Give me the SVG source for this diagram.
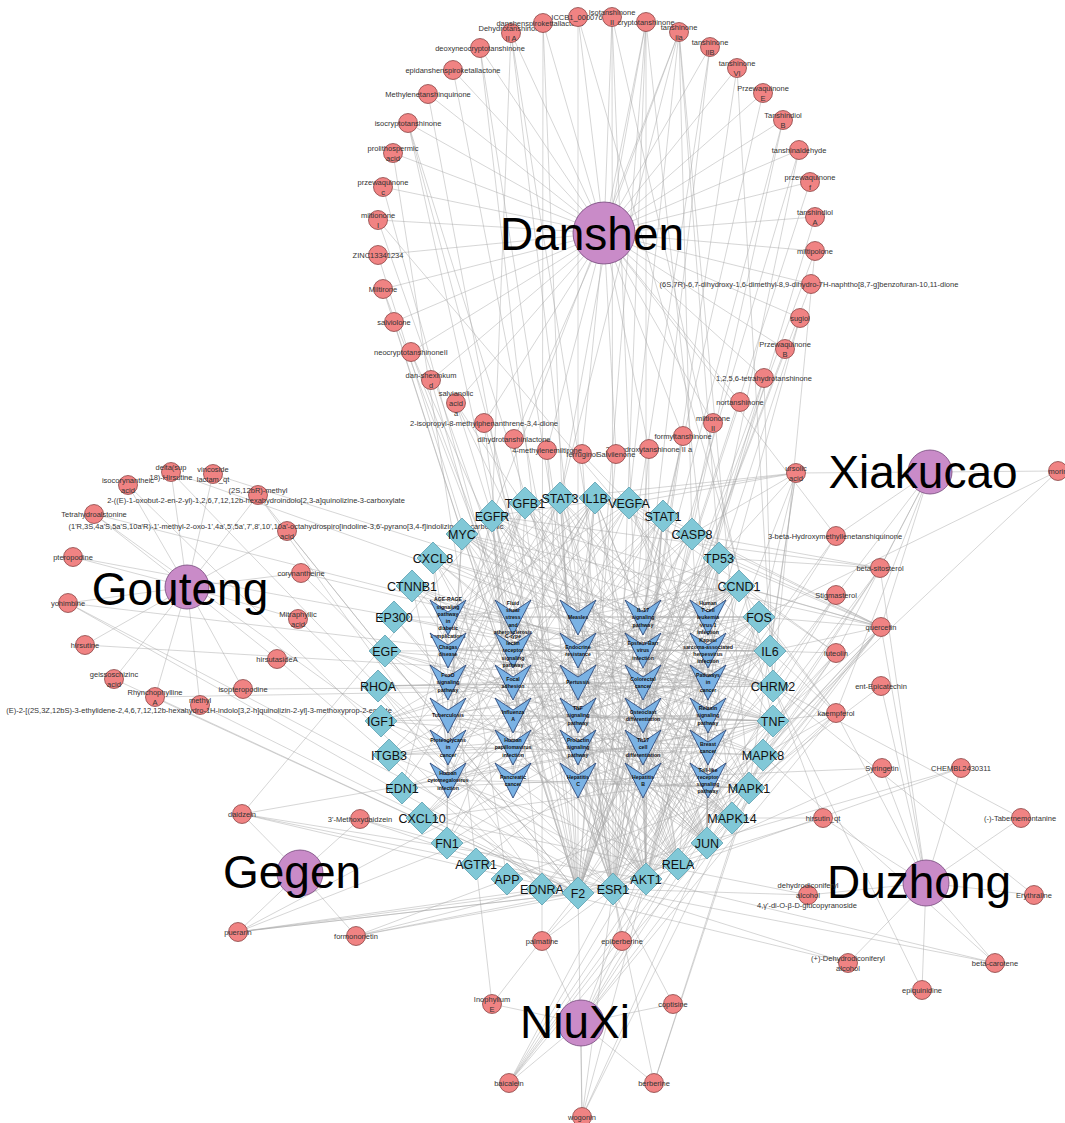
<svg xmlns="http://www.w3.org/2000/svg" width="1065" height="1123" viewBox="0 0 1065 1123">
<style>
.e line{stroke:#a9a9a9;stroke-width:0.6;stroke-opacity:0.8}
.c{fill:#f08383;stroke:#7a3434;stroke-width:0.7}
.h{fill:#c98bc8;stroke:#74467a;stroke-width:0.8}
.t{fill:#81c8d7;stroke:#5d9fb0;stroke-width:0.8}
.p{fill:#7ab2e4;stroke:#1f3a6e;stroke-width:0.8}
.cl{font-family:"Liberation Sans",Arial,sans-serif;font-size:7.5px;fill:#333;text-anchor:middle}
.tl{font-family:"Liberation Sans",Arial,sans-serif;font-size:12.5px;fill:#111;text-anchor:middle}
.pl{font-family:"Liberation Sans",Arial,sans-serif;font-size:5.2px;font-weight:bold;fill:#111;text-anchor:middle}
.hl{font-family:"Liberation Sans",Arial,sans-serif;font-size:46px;fill:#000;text-anchor:middle}
</style>
<defs>
<path id="dm" d="M0,-16L16,0L0,16L-16,0Z"/>
<path id="vee" d="M-18,-17.5L0,-5.5L18,-17.5L0,17.5Z"/>
</defs>
<rect width="1065" height="1123" fill="#fff"/>
<g id="edges" class="e">
<!-- Danshen hub -->
<line x1="604" y1="233" x2="511" y2="33"/><line x1="604" y1="233" x2="543" y2="23"/><line x1="604" y1="233" x2="578" y2="17"/><line x1="604" y1="233" x2="612" y2="17"/><line x1="604" y1="233" x2="646" y2="22"/><line x1="604" y1="233" x2="679" y2="32"/><line x1="604" y1="233" x2="710" y2="47"/><line x1="604" y1="233" x2="737" y2="68"/><line x1="604" y1="233" x2="763" y2="93"/><line x1="604" y1="233" x2="783" y2="120"/><line x1="604" y1="233" x2="799" y2="150"/><line x1="604" y1="233" x2="810" y2="182"/><line x1="604" y1="233" x2="815" y2="217"/><line x1="604" y1="233" x2="815" y2="251"/><line x1="604" y1="233" x2="811" y2="284"/><line x1="604" y1="233" x2="800" y2="318"/><line x1="604" y1="233" x2="785" y2="349"/><line x1="604" y1="233" x2="764" y2="378"/><line x1="604" y1="233" x2="740" y2="402"/><line x1="604" y1="233" x2="713" y2="423"/><line x1="604" y1="233" x2="683" y2="436"/><line x1="604" y1="233" x2="649" y2="449"/><line x1="604" y1="233" x2="616" y2="454"/><line x1="604" y1="233" x2="582" y2="454"/><line x1="604" y1="233" x2="547" y2="450"/><line x1="604" y1="233" x2="514" y2="439"/><line x1="604" y1="233" x2="484" y2="423"/><line x1="604" y1="233" x2="456" y2="403"/><line x1="604" y1="233" x2="431" y2="380"/><line x1="604" y1="233" x2="411" y2="352"/><line x1="604" y1="233" x2="394" y2="322"/><line x1="604" y1="233" x2="383" y2="289"/><line x1="604" y1="233" x2="378" y2="255"/><line x1="604" y1="233" x2="378" y2="220"/><line x1="604" y1="233" x2="383" y2="187"/><line x1="604" y1="233" x2="393" y2="153"/><line x1="604" y1="233" x2="408" y2="123"/><line x1="604" y1="233" x2="428" y2="94"/><line x1="604" y1="233" x2="453" y2="70"/><line x1="604" y1="233" x2="480" y2="48"/><line x1="604" y1="233" x2="836" y2="536"/>
<!-- Gouteng hub -->
<line x1="187" y1="587" x2="171" y2="472"/><line x1="187" y1="587" x2="213" y2="474"/><line x1="187" y1="587" x2="128" y2="485"/><line x1="187" y1="587" x2="258" y2="495"/><line x1="187" y1="587" x2="94" y2="514"/><line x1="187" y1="587" x2="287" y2="531"/><line x1="187" y1="587" x2="73" y2="557"/><line x1="187" y1="587" x2="301" y2="573"/><line x1="187" y1="587" x2="68" y2="603"/><line x1="187" y1="587" x2="298" y2="619"/><line x1="187" y1="587" x2="85" y2="645"/><line x1="187" y1="587" x2="277" y2="659"/><line x1="187" y1="587" x2="114" y2="679"/><line x1="187" y1="587" x2="243" y2="689"/><line x1="187" y1="587" x2="155" y2="697"/><line x1="187" y1="587" x2="200" y2="705"/>
<!-- Gegen hub -->
<line x1="300" y1="873" x2="242" y2="814"/><line x1="300" y1="873" x2="360" y2="819"/><line x1="300" y1="873" x2="238" y2="932"/><line x1="300" y1="873" x2="356" y2="936"/>
<!-- NiuXi hub -->
<line x1="581" y1="1023" x2="542" y2="941"/><line x1="581" y1="1023" x2="622" y2="941"/><line x1="581" y1="1023" x2="492" y2="1004"/><line x1="581" y1="1023" x2="673" y2="1004"/><line x1="581" y1="1023" x2="509" y2="1083"/><line x1="581" y1="1023" x2="654" y2="1083"/><line x1="581" y1="1023" x2="582" y2="1117"/><line x1="581" y1="1023" x2="880" y2="568"/><line x1="581" y1="1023" x2="836" y2="595"/><line x1="581" y1="1023" x2="881" y2="627"/><line x1="581" y1="1023" x2="836" y2="713"/><line x1="581" y1="1023" x2="796" y2="473"/>
<!-- Xiakucao hub -->
<line x1="930" y1="472" x2="796" y2="473"/><line x1="930" y1="472" x2="1058" y2="471"/><line x1="930" y1="472" x2="836" y2="536"/><line x1="930" y1="472" x2="880" y2="568"/><line x1="930" y1="472" x2="836" y2="595"/><line x1="930" y1="472" x2="881" y2="627"/><line x1="930" y1="472" x2="836" y2="653"/><line x1="930" y1="472" x2="836" y2="713"/>
<!-- Duzhong hub -->
<line x1="926" y1="883" x2="808" y2="895"/><line x1="926" y1="883" x2="1034" y2="895"/><line x1="926" y1="883" x2="848" y2="963"/><line x1="926" y1="883" x2="995" y2="963"/><line x1="926" y1="883" x2="922" y2="990"/><line x1="926" y1="883" x2="880" y2="568"/><line x1="926" y1="883" x2="881" y2="627"/><line x1="926" y1="883" x2="881" y2="686"/><line x1="926" y1="883" x2="836" y2="713"/><line x1="926" y1="883" x2="882" y2="768"/><line x1="926" y1="883" x2="961" y2="768"/><line x1="926" y1="883" x2="823" y2="818"/><line x1="926" y1="883" x2="1021" y2="818"/>
<!-- Danshen compounds to targets -->
<line x1="511" y1="33" x2="492" y2="516"/><line x1="511" y1="33" x2="646" y2="879"/><line x1="511" y1="33" x2="613" y2="889"/>
<line x1="543" y1="23" x2="578" y2="893"/><line x1="543" y1="23" x2="542" y2="889"/>
<line x1="578" y1="17" x2="773" y2="686"/><line x1="578" y1="17" x2="578" y2="893"/>
<line x1="612" y1="17" x2="613" y2="889"/><line x1="612" y1="17" x2="646" y2="879"/><line x1="612" y1="17" x2="773" y2="721"/>
<line x1="646" y1="22" x2="560" y2="498"/><line x1="646" y1="22" x2="613" y2="889"/><line x1="646" y1="22" x2="646" y2="879"/><line x1="646" y1="22" x2="732" y2="818"/><line x1="646" y1="22" x2="578" y2="893"/>
<line x1="679" y1="32" x2="560" y2="498"/><line x1="679" y1="32" x2="629" y2="503"/><line x1="679" y1="32" x2="719" y2="558"/><line x1="679" y1="32" x2="692" y2="534"/><line x1="679" y1="32" x2="492" y2="516"/><line x1="679" y1="32" x2="749" y2="788"/>
<line x1="710" y1="47" x2="578" y2="893"/><line x1="710" y1="47" x2="613" y2="889"/>
<line x1="737" y1="68" x2="613" y2="889"/><line x1="737" y1="68" x2="773" y2="686"/>
<line x1="763" y1="93" x2="578" y2="893"/>
<line x1="783" y1="120" x2="613" y2="889"/><line x1="783" y1="120" x2="578" y2="893"/>
<line x1="799" y1="150" x2="578" y2="893"/><line x1="799" y1="150" x2="646" y2="879"/>
<line x1="810" y1="182" x2="578" y2="893"/>
<line x1="815" y1="217" x2="613" y2="889"/>
<line x1="815" y1="251" x2="578" y2="893"/><line x1="815" y1="251" x2="773" y2="686"/>
<line x1="811" y1="284" x2="578" y2="893"/>
<line x1="800" y1="318" x2="613" y2="889"/><line x1="800" y1="318" x2="646" y2="879"/>
<line x1="785" y1="349" x2="578" y2="893"/>
<line x1="764" y1="378" x2="613" y2="889"/><line x1="764" y1="378" x2="578" y2="893"/><line x1="764" y1="378" x2="773" y2="686"/>
<line x1="740" y1="402" x2="578" y2="893"/>
<line x1="713" y1="423" x2="613" y2="889"/>
<line x1="683" y1="436" x2="578" y2="893"/><line x1="683" y1="436" x2="613" y2="889"/>
<line x1="649" y1="449" x2="613" y2="889"/><line x1="649" y1="449" x2="646" y2="879"/>
<line x1="616" y1="454" x2="578" y2="893"/>
<line x1="582" y1="454" x2="613" y2="889"/><line x1="582" y1="454" x2="770" y2="651"/>
<line x1="547" y1="450" x2="578" y2="893"/><line x1="547" y1="450" x2="613" y2="889"/>
<line x1="514" y1="439" x2="578" y2="893"/>
<line x1="484" y1="423" x2="542" y2="889"/><line x1="484" y1="423" x2="613" y2="889"/>
<line x1="456" y1="403" x2="732" y2="818"/><line x1="456" y1="403" x2="678" y2="864"/><line x1="456" y1="403" x2="492" y2="516"/>
<line x1="431" y1="380" x2="578" y2="893"/>
<line x1="411" y1="352" x2="613" y2="889"/><line x1="411" y1="352" x2="646" y2="879"/>
<line x1="394" y1="322" x2="578" y2="893"/>
<line x1="383" y1="289" x2="613" y2="889"/><line x1="383" y1="289" x2="578" y2="893"/>
<line x1="378" y1="255" x2="578" y2="893"/>
<line x1="378" y1="220" x2="613" y2="889"/><line x1="378" y1="220" x2="773" y2="686"/>
<line x1="383" y1="187" x2="578" y2="893"/>
<line x1="393" y1="153" x2="507" y2="879"/>
<line x1="408" y1="123" x2="613" y2="889"/><line x1="408" y1="123" x2="646" y2="879"/><line x1="408" y1="123" x2="578" y2="893"/>
<line x1="428" y1="94" x2="578" y2="893"/>
<line x1="453" y1="70" x2="613" y2="889"/>
<line x1="480" y1="48" x2="578" y2="893"/><line x1="480" y1="48" x2="613" y2="889"/>
<!-- Gouteng compounds to targets -->
<line x1="171" y1="472" x2="773" y2="686"/><line x1="171" y1="472" x2="578" y2="893"/>
<line x1="213" y1="474" x2="770" y2="651"/>
<line x1="128" y1="485" x2="542" y2="889"/>
<line x1="258" y1="495" x2="542" y2="889"/><line x1="258" y1="495" x2="578" y2="893"/>
<line x1="94" y1="514" x2="773" y2="686"/><line x1="94" y1="514" x2="613" y2="889"/>
<line x1="287" y1="531" x2="578" y2="893"/>
<line x1="73" y1="557" x2="773" y2="686"/>
<line x1="301" y1="573" x2="773" y2="686"/><line x1="301" y1="573" x2="613" y2="889"/>
<line x1="68" y1="603" x2="773" y2="686"/><line x1="68" y1="603" x2="578" y2="893"/><line x1="68" y1="603" x2="613" y2="889"/>
<line x1="298" y1="619" x2="578" y2="893"/>
<line x1="85" y1="645" x2="773" y2="686"/>
<line x1="277" y1="659" x2="542" y2="889"/>
<line x1="114" y1="679" x2="578" y2="893"/>
<line x1="243" y1="689" x2="773" y2="686"/>
<line x1="155" y1="697" x2="773" y2="686"/><line x1="155" y1="697" x2="578" y2="893"/>
<line x1="200" y1="705" x2="578" y2="893"/>
<!-- Gegen compounds to targets -->
<line x1="242" y1="814" x2="613" y2="889"/><line x1="242" y1="814" x2="646" y2="879"/><line x1="242" y1="814" x2="492" y2="516"/><line x1="242" y1="814" x2="773" y2="721"/><line x1="242" y1="814" x2="578" y2="893"/>
<line x1="360" y1="819" x2="613" y2="889"/><line x1="360" y1="819" x2="578" y2="893"/>
<line x1="238" y1="932" x2="613" y2="889"/><line x1="238" y1="932" x2="646" y2="879"/><line x1="238" y1="932" x2="773" y2="721"/><line x1="238" y1="932" x2="770" y2="651"/><line x1="238" y1="932" x2="578" y2="893"/><line x1="238" y1="932" x2="542" y2="889"/>
<line x1="356" y1="936" x2="613" y2="889"/><line x1="356" y1="936" x2="646" y2="879"/><line x1="356" y1="936" x2="749" y2="788"/><line x1="356" y1="936" x2="542" y2="889"/>
<!-- NiuXi compounds to targets -->
<line x1="542" y1="941" x2="542" y2="889"/><line x1="542" y1="941" x2="773" y2="686"/><line x1="542" y1="941" x2="613" y2="889"/>
<line x1="622" y1="941" x2="613" y2="889"/><line x1="622" y1="941" x2="646" y2="879"/>
<line x1="492" y1="1004" x2="578" y2="893"/><line x1="492" y1="1004" x2="476" y2="864"/>
<line x1="673" y1="1004" x2="613" y2="889"/>
<line x1="509" y1="1083" x2="646" y2="879"/><line x1="509" y1="1083" x2="613" y2="889"/><line x1="509" y1="1083" x2="732" y2="818"/><line x1="509" y1="1083" x2="678" y2="864"/><line x1="509" y1="1083" x2="773" y2="721"/><line x1="509" y1="1083" x2="770" y2="651"/>
<line x1="654" y1="1083" x2="613" y2="889"/><line x1="654" y1="1083" x2="749" y2="788"/><line x1="654" y1="1083" x2="773" y2="721"/>
<line x1="582" y1="1117" x2="646" y2="879"/><line x1="582" y1="1117" x2="613" y2="889"/><line x1="582" y1="1117" x2="707" y2="843"/><line x1="582" y1="1117" x2="763" y2="755"/><line x1="582" y1="1117" x2="578" y2="893"/>
<!-- Xiakucao/shared compounds to targets -->
<line x1="796" y1="473" x2="692" y2="534"/><line x1="796" y1="473" x2="560" y2="498"/><line x1="796" y1="473" x2="719" y2="558"/><line x1="796" y1="473" x2="749" y2="788"/><line x1="796" y1="473" x2="492" y2="516"/><line x1="796" y1="473" x2="629" y2="503"/><line x1="796" y1="473" x2="770" y2="651"/><line x1="796" y1="473" x2="707" y2="843"/>
<line x1="1058" y1="471" x2="759" y2="617"/><line x1="1058" y1="471" x2="613" y2="889"/>
<line x1="836" y1="536" x2="613" y2="889"/><line x1="836" y1="536" x2="578" y2="893"/>
<line x1="880" y1="568" x2="692" y2="534"/><line x1="880" y1="568" x2="719" y2="558"/><line x1="880" y1="568" x2="492" y2="516"/><line x1="880" y1="568" x2="678" y2="864"/><line x1="880" y1="568" x2="646" y2="879"/>
<line x1="836" y1="595" x2="613" y2="889"/><line x1="836" y1="595" x2="773" y2="686"/>
<line x1="881" y1="627" x2="759" y2="617"/><line x1="881" y1="627" x2="770" y2="651"/><line x1="881" y1="627" x2="773" y2="721"/><line x1="881" y1="627" x2="707" y2="843"/><line x1="881" y1="627" x2="739" y2="586"/><line x1="881" y1="627" x2="646" y2="879"/><line x1="881" y1="627" x2="749" y2="788"/><line x1="881" y1="627" x2="763" y2="755"/><line x1="881" y1="627" x2="492" y2="516"/><line x1="881" y1="627" x2="719" y2="558"/><line x1="881" y1="627" x2="663" y2="516"/><line x1="881" y1="627" x2="629" y2="503"/><line x1="881" y1="627" x2="678" y2="864"/><line x1="881" y1="627" x2="595" y2="498"/><line x1="881" y1="627" x2="462" y2="534"/>
<line x1="836" y1="653" x2="770" y2="651"/><line x1="836" y1="653" x2="773" y2="721"/><line x1="836" y1="653" x2="707" y2="843"/><line x1="836" y1="653" x2="739" y2="586"/><line x1="836" y1="653" x2="646" y2="879"/><line x1="836" y1="653" x2="629" y2="503"/><line x1="836" y1="653" x2="763" y2="755"/>
<line x1="881" y1="686" x2="613" y2="889"/>
<line x1="836" y1="713" x2="646" y2="879"/><line x1="836" y1="713" x2="773" y2="721"/><line x1="836" y1="713" x2="707" y2="843"/><line x1="836" y1="713" x2="763" y2="755"/><line x1="836" y1="713" x2="770" y2="651"/><line x1="836" y1="713" x2="739" y2="586"/><line x1="836" y1="713" x2="759" y2="617"/>
<line x1="882" y1="768" x2="613" y2="889"/><line x1="882" y1="768" x2="402" y2="788"/>
<line x1="961" y1="768" x2="542" y2="889"/><line x1="961" y1="768" x2="646" y2="879"/>
<line x1="823" y1="818" x2="773" y2="686"/><line x1="823" y1="818" x2="578" y2="893"/><line x1="823" y1="818" x2="732" y2="818"/>
<line x1="1021" y1="818" x2="773" y2="686"/>
<!-- Duzhong compounds to targets -->
<line x1="808" y1="895" x2="422" y2="818"/><line x1="808" y1="895" x2="613" y2="889"/>
<line x1="1034" y1="895" x2="773" y2="686"/>
<line x1="848" y1="963" x2="542" y2="889"/><line x1="848" y1="963" x2="613" y2="889"/>
<line x1="995" y1="963" x2="646" y2="879"/><line x1="995" y1="963" x2="613" y2="889"/><line x1="995" y1="963" x2="763" y2="755"/>
<line x1="922" y1="990" x2="773" y2="686"/>
<!-- targets to pathways -->
<line x1="448" y1="617" x2="595" y2="498"/><line x1="448" y1="617" x2="629" y2="503"/><line x1="448" y1="617" x2="525" y2="503"/><line x1="448" y1="617" x2="770" y2="651"/><line x1="448" y1="617" x2="773" y2="721"/><line x1="448" y1="617" x2="646" y2="879"/><line x1="448" y1="617" x2="707" y2="843"/><line x1="448" y1="617" x2="560" y2="498"/><line x1="448" y1="617" x2="402" y2="788"/><line x1="448" y1="617" x2="447" y2="843"/><line x1="448" y1="617" x2="476" y2="864"/><line x1="448" y1="617" x2="739" y2="586"/>
<line x1="513" y1="617" x2="629" y2="503"/><line x1="513" y1="617" x2="595" y2="498"/><line x1="513" y1="617" x2="773" y2="721"/><line x1="513" y1="617" x2="707" y2="843"/><line x1="513" y1="617" x2="759" y2="617"/><line x1="513" y1="617" x2="678" y2="864"/><line x1="513" y1="617" x2="646" y2="879"/><line x1="513" y1="617" x2="732" y2="818"/><line x1="513" y1="617" x2="389" y2="755"/><line x1="513" y1="617" x2="402" y2="788"/>
<line x1="578" y1="617" x2="663" y2="516"/><line x1="578" y1="617" x2="560" y2="498"/><line x1="578" y1="617" x2="595" y2="498"/><line x1="578" y1="617" x2="770" y2="651"/><line x1="578" y1="617" x2="719" y2="558"/><line x1="578" y1="617" x2="739" y2="586"/><line x1="578" y1="617" x2="646" y2="879"/><line x1="578" y1="617" x2="707" y2="843"/><line x1="578" y1="617" x2="678" y2="864"/>
<line x1="643" y1="617" x2="595" y2="498"/><line x1="643" y1="617" x2="770" y2="651"/><line x1="643" y1="617" x2="773" y2="721"/><line x1="643" y1="617" x2="433" y2="558"/><line x1="643" y1="617" x2="422" y2="818"/><line x1="643" y1="617" x2="692" y2="534"/><line x1="643" y1="617" x2="707" y2="843"/><line x1="643" y1="617" x2="759" y2="617"/><line x1="643" y1="617" x2="732" y2="818"/><line x1="643" y1="617" x2="678" y2="864"/>
<line x1="708" y1="617" x2="525" y2="503"/><line x1="708" y1="617" x2="462" y2="534"/><line x1="708" y1="617" x2="719" y2="558"/><line x1="708" y1="617" x2="739" y2="586"/><line x1="708" y1="617" x2="770" y2="651"/><line x1="708" y1="617" x2="773" y2="721"/><line x1="708" y1="617" x2="759" y2="617"/><line x1="708" y1="617" x2="707" y2="843"/><line x1="708" y1="617" x2="646" y2="879"/><line x1="708" y1="617" x2="492" y2="516"/><line x1="708" y1="617" x2="678" y2="864"/><line x1="708" y1="617" x2="394" y2="617"/>
<line x1="448" y1="650" x2="595" y2="498"/><line x1="448" y1="650" x2="525" y2="503"/><line x1="448" y1="650" x2="770" y2="651"/><line x1="448" y1="650" x2="773" y2="721"/><line x1="448" y1="650" x2="707" y2="843"/><line x1="448" y1="650" x2="732" y2="818"/><line x1="448" y1="650" x2="433" y2="558"/><line x1="448" y1="650" x2="759" y2="617"/><line x1="448" y1="650" x2="678" y2="864"/>
<line x1="513" y1="650" x2="595" y2="498"/><line x1="513" y1="650" x2="770" y2="651"/><line x1="513" y1="650" x2="773" y2="721"/><line x1="513" y1="650" x2="663" y2="516"/><line x1="513" y1="650" x2="678" y2="864"/><line x1="513" y1="650" x2="732" y2="818"/><line x1="513" y1="650" x2="763" y2="755"/><line x1="513" y1="650" x2="646" y2="879"/><line x1="513" y1="650" x2="707" y2="843"/>
<line x1="578" y1="650" x2="613" y2="889"/><line x1="578" y1="650" x2="492" y2="516"/><line x1="578" y1="650" x2="381" y2="721"/><line x1="578" y1="650" x2="739" y2="586"/><line x1="578" y1="650" x2="646" y2="879"/><line x1="578" y1="650" x2="749" y2="788"/><line x1="578" y1="650" x2="719" y2="558"/><line x1="578" y1="650" x2="707" y2="843"/><line x1="578" y1="650" x2="759" y2="617"/>
<line x1="643" y1="650" x2="560" y2="498"/><line x1="643" y1="650" x2="719" y2="558"/><line x1="643" y1="650" x2="462" y2="534"/><line x1="643" y1="650" x2="739" y2="586"/><line x1="643" y1="650" x2="770" y2="651"/><line x1="643" y1="650" x2="773" y2="721"/><line x1="643" y1="650" x2="707" y2="843"/><line x1="643" y1="650" x2="678" y2="864"/><line x1="643" y1="650" x2="422" y2="818"/>
<line x1="708" y1="650" x2="560" y2="498"/><line x1="708" y1="650" x2="462" y2="534"/><line x1="708" y1="650" x2="770" y2="651"/><line x1="708" y1="650" x2="433" y2="558"/><line x1="708" y1="650" x2="629" y2="503"/><line x1="708" y1="650" x2="739" y2="586"/><line x1="708" y1="650" x2="719" y2="558"/><line x1="708" y1="650" x2="707" y2="843"/><line x1="708" y1="650" x2="759" y2="617"/><line x1="708" y1="650" x2="646" y2="879"/><line x1="708" y1="650" x2="385" y2="651"/>
<line x1="448" y1="682" x2="525" y2="503"/><line x1="448" y1="682" x2="560" y2="498"/><line x1="448" y1="682" x2="492" y2="516"/><line x1="448" y1="682" x2="385" y2="651"/><line x1="448" y1="682" x2="381" y2="721"/><line x1="448" y1="682" x2="739" y2="586"/><line x1="448" y1="682" x2="646" y2="879"/><line x1="448" y1="682" x2="763" y2="755"/><line x1="448" y1="682" x2="394" y2="617"/><line x1="448" y1="682" x2="749" y2="788"/>
<line x1="513" y1="682" x2="629" y2="503"/><line x1="513" y1="682" x2="492" y2="516"/><line x1="513" y1="682" x2="385" y2="651"/><line x1="513" y1="682" x2="739" y2="586"/><line x1="513" y1="682" x2="381" y2="721"/><line x1="513" y1="682" x2="389" y2="755"/><line x1="513" y1="682" x2="447" y2="843"/><line x1="513" y1="682" x2="378" y2="686"/><line x1="513" y1="682" x2="646" y2="879"/><line x1="513" y1="682" x2="412" y2="586"/>
<line x1="578" y1="682" x2="595" y2="498"/><line x1="578" y1="682" x2="770" y2="651"/><line x1="578" y1="682" x2="773" y2="721"/><line x1="578" y1="682" x2="433" y2="558"/><line x1="578" y1="682" x2="732" y2="818"/><line x1="578" y1="682" x2="707" y2="843"/><line x1="578" y1="682" x2="759" y2="617"/><line x1="578" y1="682" x2="678" y2="864"/>
<line x1="643" y1="682" x2="525" y2="503"/><line x1="643" y1="682" x2="462" y2="534"/><line x1="643" y1="682" x2="412" y2="586"/><line x1="643" y1="682" x2="739" y2="586"/><line x1="643" y1="682" x2="719" y2="558"/><line x1="643" y1="682" x2="646" y2="879"/><line x1="643" y1="682" x2="707" y2="843"/><line x1="643" y1="682" x2="749" y2="788"/><line x1="643" y1="682" x2="492" y2="516"/><line x1="643" y1="682" x2="378" y2="686"/>
<line x1="708" y1="682" x2="492" y2="516"/><line x1="708" y1="682" x2="385" y2="651"/><line x1="708" y1="682" x2="629" y2="503"/><line x1="708" y1="682" x2="462" y2="534"/><line x1="708" y1="682" x2="719" y2="558"/><line x1="708" y1="682" x2="739" y2="586"/><line x1="708" y1="682" x2="412" y2="586"/><line x1="708" y1="682" x2="560" y2="498"/><line x1="708" y1="682" x2="381" y2="721"/><line x1="708" y1="682" x2="447" y2="843"/><line x1="708" y1="682" x2="389" y2="755"/><line x1="708" y1="682" x2="378" y2="686"/><line x1="708" y1="682" x2="646" y2="879"/><line x1="708" y1="682" x2="749" y2="788"/><line x1="708" y1="682" x2="707" y2="843"/><line x1="708" y1="682" x2="770" y2="651"/><line x1="708" y1="682" x2="433" y2="558"/><line x1="708" y1="682" x2="476" y2="864"/><line x1="708" y1="682" x2="542" y2="889"/><line x1="708" y1="682" x2="578" y2="893"/><line x1="708" y1="682" x2="613" y2="889"/><line x1="708" y1="682" x2="394" y2="617"/>
<line x1="448" y1="715" x2="595" y2="498"/><line x1="448" y1="715" x2="773" y2="721"/><line x1="448" y1="715" x2="770" y2="651"/><line x1="448" y1="715" x2="525" y2="503"/><line x1="448" y1="715" x2="732" y2="818"/><line x1="448" y1="715" x2="692" y2="534"/><line x1="448" y1="715" x2="678" y2="864"/><line x1="448" y1="715" x2="749" y2="788"/>
<line x1="513" y1="715" x2="663" y2="516"/><line x1="513" y1="715" x2="595" y2="498"/><line x1="513" y1="715" x2="770" y2="651"/><line x1="513" y1="715" x2="773" y2="721"/><line x1="513" y1="715" x2="433" y2="558"/><line x1="513" y1="715" x2="422" y2="818"/><line x1="513" y1="715" x2="678" y2="864"/><line x1="513" y1="715" x2="707" y2="843"/><line x1="513" y1="715" x2="646" y2="879"/>
<line x1="578" y1="715" x2="595" y2="498"/><line x1="578" y1="715" x2="770" y2="651"/><line x1="578" y1="715" x2="773" y2="721"/><line x1="578" y1="715" x2="422" y2="818"/><line x1="578" y1="715" x2="692" y2="534"/><line x1="578" y1="715" x2="707" y2="843"/><line x1="578" y1="715" x2="759" y2="617"/><line x1="578" y1="715" x2="732" y2="818"/><line x1="578" y1="715" x2="402" y2="788"/>
<line x1="643" y1="715" x2="773" y2="721"/><line x1="643" y1="715" x2="595" y2="498"/><line x1="643" y1="715" x2="759" y2="617"/><line x1="643" y1="715" x2="707" y2="843"/><line x1="643" y1="715" x2="732" y2="818"/><line x1="643" y1="715" x2="763" y2="755"/><line x1="643" y1="715" x2="646" y2="879"/><line x1="643" y1="715" x2="678" y2="864"/><line x1="643" y1="715" x2="663" y2="516"/>
<line x1="708" y1="715" x2="629" y2="503"/><line x1="708" y1="715" x2="525" y2="503"/><line x1="708" y1="715" x2="492" y2="516"/><line x1="708" y1="715" x2="542" y2="889"/><line x1="708" y1="715" x2="759" y2="617"/><line x1="708" y1="715" x2="707" y2="843"/><line x1="708" y1="715" x2="646" y2="879"/><line x1="708" y1="715" x2="749" y2="788"/><line x1="708" y1="715" x2="402" y2="788"/><line x1="708" y1="715" x2="381" y2="721"/>
<line x1="448" y1="747" x2="462" y2="534"/><line x1="448" y1="747" x2="525" y2="503"/><line x1="448" y1="747" x2="629" y2="503"/><line x1="448" y1="747" x2="412" y2="586"/><line x1="448" y1="747" x2="492" y2="516"/><line x1="448" y1="747" x2="613" y2="889"/><line x1="448" y1="747" x2="381" y2="721"/><line x1="448" y1="747" x2="773" y2="721"/><line x1="448" y1="747" x2="739" y2="586"/><line x1="448" y1="747" x2="447" y2="843"/><line x1="448" y1="747" x2="389" y2="755"/><line x1="448" y1="747" x2="378" y2="686"/><line x1="448" y1="747" x2="719" y2="558"/><line x1="448" y1="747" x2="560" y2="498"/><line x1="448" y1="747" x2="763" y2="755"/>
<line x1="513" y1="747" x2="719" y2="558"/><line x1="513" y1="747" x2="492" y2="516"/><line x1="513" y1="747" x2="385" y2="651"/><line x1="513" y1="747" x2="739" y2="586"/><line x1="513" y1="747" x2="412" y2="586"/><line x1="513" y1="747" x2="389" y2="755"/><line x1="513" y1="747" x2="447" y2="843"/><line x1="513" y1="747" x2="646" y2="879"/><line x1="513" y1="747" x2="394" y2="617"/><line x1="513" y1="747" x2="663" y2="516"/>
<line x1="578" y1="747" x2="663" y2="516"/><line x1="578" y1="747" x2="560" y2="498"/><line x1="578" y1="747" x2="613" y2="889"/><line x1="578" y1="747" x2="739" y2="586"/><line x1="578" y1="747" x2="759" y2="617"/><line x1="578" y1="747" x2="646" y2="879"/><line x1="578" y1="747" x2="732" y2="818"/><line x1="578" y1="747" x2="763" y2="755"/>
<line x1="643" y1="747" x2="595" y2="498"/><line x1="643" y1="747" x2="770" y2="651"/><line x1="643" y1="747" x2="525" y2="503"/><line x1="643" y1="747" x2="663" y2="516"/><line x1="643" y1="747" x2="560" y2="498"/><line x1="643" y1="747" x2="707" y2="843"/><line x1="643" y1="747" x2="732" y2="818"/><line x1="643" y1="747" x2="678" y2="864"/>
<line x1="708" y1="747" x2="613" y2="889"/><line x1="708" y1="747" x2="492" y2="516"/><line x1="708" y1="747" x2="385" y2="651"/><line x1="708" y1="747" x2="381" y2="721"/><line x1="708" y1="747" x2="739" y2="586"/><line x1="708" y1="747" x2="719" y2="558"/><line x1="708" y1="747" x2="412" y2="586"/><line x1="708" y1="747" x2="462" y2="534"/><line x1="708" y1="747" x2="759" y2="617"/><line x1="708" y1="747" x2="707" y2="843"/><line x1="708" y1="747" x2="646" y2="879"/><line x1="708" y1="747" x2="389" y2="755"/>
<line x1="448" y1="780" x2="560" y2="498"/><line x1="448" y1="780" x2="433" y2="558"/><line x1="448" y1="780" x2="595" y2="498"/><line x1="448" y1="780" x2="770" y2="651"/><line x1="448" y1="780" x2="773" y2="721"/><line x1="448" y1="780" x2="719" y2="558"/><line x1="448" y1="780" x2="692" y2="534"/><line x1="448" y1="780" x2="646" y2="879"/><line x1="448" y1="780" x2="678" y2="864"/><line x1="448" y1="780" x2="462" y2="534"/><line x1="448" y1="780" x2="378" y2="686"/><line x1="448" y1="780" x2="389" y2="755"/><line x1="448" y1="780" x2="749" y2="788"/>
<line x1="513" y1="780" x2="525" y2="503"/><line x1="513" y1="780" x2="560" y2="498"/><line x1="513" y1="780" x2="492" y2="516"/><line x1="513" y1="780" x2="629" y2="503"/><line x1="513" y1="780" x2="739" y2="586"/><line x1="513" y1="780" x2="646" y2="879"/><line x1="513" y1="780" x2="719" y2="558"/><line x1="513" y1="780" x2="749" y2="788"/>
<line x1="578" y1="780" x2="663" y2="516"/><line x1="578" y1="780" x2="560" y2="498"/><line x1="578" y1="780" x2="492" y2="516"/><line x1="578" y1="780" x2="739" y2="586"/><line x1="578" y1="780" x2="719" y2="558"/><line x1="578" y1="780" x2="646" y2="879"/><line x1="578" y1="780" x2="749" y2="788"/><line x1="578" y1="780" x2="773" y2="721"/><line x1="578" y1="780" x2="433" y2="558"/><line x1="578" y1="780" x2="462" y2="534"/>
<line x1="643" y1="780" x2="663" y2="516"/><line x1="643" y1="780" x2="560" y2="498"/><line x1="643" y1="780" x2="719" y2="558"/><line x1="643" y1="780" x2="462" y2="534"/><line x1="643" y1="780" x2="739" y2="586"/><line x1="643" y1="780" x2="773" y2="721"/><line x1="643" y1="780" x2="770" y2="651"/><line x1="643" y1="780" x2="707" y2="843"/><line x1="643" y1="780" x2="759" y2="617"/><line x1="643" y1="780" x2="646" y2="879"/>
<line x1="708" y1="780" x2="595" y2="498"/><line x1="708" y1="780" x2="770" y2="651"/><line x1="708" y1="780" x2="773" y2="721"/><line x1="708" y1="780" x2="433" y2="558"/><line x1="708" y1="780" x2="422" y2="818"/><line x1="708" y1="780" x2="663" y2="516"/><line x1="708" y1="780" x2="707" y2="843"/><line x1="708" y1="780" x2="759" y2="617"/><line x1="708" y1="780" x2="678" y2="864"/><line x1="708" y1="780" x2="646" y2="879"/><line x1="708" y1="780" x2="763" y2="755"/><line x1="708" y1="780" x2="692" y2="534"/>
</g>
<!-- Hubs -->
<g id="hub-danshen"><circle class="h" cx="604" cy="233" r="31"/><text class="hl" x="592" y="250">Danshen</text></g>
<g id="hub-xiakucao"><circle class="h" cx="930" cy="472" r="22"/><text class="hl" x="923" y="488">Xiakucao</text></g>
<g id="hub-gouteng"><circle class="h" cx="187" cy="587" r="22"/><text class="hl" x="180" y="605">Gouteng</text></g>
<g id="hub-gegen"><circle class="h" cx="300" cy="873" r="23"/><text class="hl" x="292" y="888">Gegen</text></g>
<g id="hub-duzhong"><circle class="h" cx="926" cy="883" r="23"/><text class="hl" x="919" y="898">Duzhong</text></g>
<g id="hub-niuxi"><circle class="h" cx="581" cy="1023" r="23"/><text class="hl" x="575" y="1038">NiuXi</text></g>
<!-- Danshen compounds -->
<g id="c-d01"><circle class="c" cx="511" cy="33" r="9.5"/><text class="cl" x="511" y="30.7">Dehydrotanshinone<tspan x="511" dy="10">II A</tspan></text></g>
<g id="c-d02"><circle class="c" cx="543" cy="23" r="9.5"/><text class="cl" x="540" y="25.7">danshenspirokettallactone</text></g>
<g id="c-d03"><circle class="c" cx="578" cy="17" r="9.5"/><text class="cl" x="577" y="19.7">ICCB1_000076</text></g>
<g id="c-d04"><circle class="c" cx="612" cy="17" r="9.5"/><text class="cl" x="612" y="14.7">Isotanshinone<tspan x="612" dy="10">II</tspan></text></g>
<g id="c-d05"><circle class="c" cx="646" cy="22" r="9.5"/><text class="cl" x="646" y="24.7">cryptotanshinone</text></g>
<g id="c-d06"><circle class="c" cx="679" cy="32" r="9.5"/><text class="cl" x="679" y="29.7">tanshinone<tspan x="679" dy="10">iia</tspan></text></g>
<g id="c-d07"><circle class="c" cx="710" cy="47" r="9.5"/><text class="cl" x="710" y="44.7">tanshinone<tspan x="710" dy="10">IIB</tspan></text></g>
<g id="c-d08"><circle class="c" cx="737" cy="68" r="9.5"/><text class="cl" x="737" y="65.7">tanshinone<tspan x="737" dy="10">VI</tspan></text></g>
<g id="c-d09"><circle class="c" cx="763" cy="93" r="9.5"/><text class="cl" x="763" y="90.7">Przewaquinone<tspan x="763" dy="10">E</tspan></text></g>
<g id="c-d10"><circle class="c" cx="783" cy="120" r="9.5"/><text class="cl" x="783" y="117.7">Tanshindiol<tspan x="783" dy="10">B</tspan></text></g>
<g id="c-d11"><circle class="c" cx="799" cy="150" r="9.5"/><text class="cl" x="799" y="152.7">tanshinaldehyde</text></g>
<g id="c-d12"><circle class="c" cx="810" cy="182" r="9.5"/><text class="cl" x="810" y="179.7">przewaquinone<tspan x="810" dy="10">f</tspan></text></g>
<g id="c-d13"><circle class="c" cx="815" cy="217" r="9.5"/><text class="cl" x="815" y="214.7">tanshindiol<tspan x="815" dy="10">A</tspan></text></g>
<g id="c-d14"><circle class="c" cx="815" cy="251" r="9.5"/><text class="cl" x="815" y="253.7">miltipolone</text></g>
<g id="c-d15"><circle class="c" cx="811" cy="284" r="9.5"/><text class="cl" x="809" y="286.7">(6S,7R)-6,7-dihydroxy-1,6-dimethyl-8,9-dihydro-7H-naphtho[8,7-g]benzofuran-10,11-dione</text></g>
<g id="c-d16"><circle class="c" cx="800" cy="318" r="9.5"/><text class="cl" x="800" y="320.7">sugiol</text></g>
<g id="c-d17"><circle class="c" cx="785" cy="349" r="9.5"/><text class="cl" x="785" y="346.7">Przewaquinone<tspan x="785" dy="10">B</tspan></text></g>
<g id="c-d18"><circle class="c" cx="764" cy="378" r="9.5"/><text class="cl" x="764" y="380.7">1,2,5,6-tetrahydrotanshinone</text></g>
<g id="c-d19"><circle class="c" cx="740" cy="402" r="9.5"/><text class="cl" x="740" y="404.7">nortanshinone</text></g>
<g id="c-d20"><circle class="c" cx="713" cy="423" r="9.5"/><text class="cl" x="713" y="420.7">miltionone<tspan x="713" dy="10">II</tspan></text></g>
<g id="c-d21"><circle class="c" cx="683" cy="436" r="9.5"/><text class="cl" x="683" y="438.7">formyltanshinone</text></g>
<g id="c-d22"><circle class="c" cx="649" cy="449" r="9.5"/><text class="cl" x="649" y="451.7">2β-hydroxytanshinone II a</text></g>
<g id="c-d23"><circle class="c" cx="616" cy="454" r="9.5"/><text class="cl" x="616" y="456.7">Salvilenone</text></g>
<g id="c-d24"><circle class="c" cx="582" cy="454" r="9.5"/><text class="cl" x="582" y="456.7">ferruginol</text></g>
<g id="c-d25"><circle class="c" cx="547" cy="450" r="9.5"/><text class="cl" x="547" y="452.7">4-methylenemiltirone</text></g>
<g id="c-d26"><circle class="c" cx="514" cy="439" r="9.5"/><text class="cl" x="514" y="441.7">dihydrotanshinlactone</text></g>
<g id="c-d27"><circle class="c" cx="484" cy="423" r="9.5"/><text class="cl" x="484" y="425.7">2-isopropyl-8-methylphenanthrene-3,4-dione</text></g>
<g id="c-d28"><circle class="c" cx="456" cy="403" r="9.5"/><text class="cl" x="456" y="395.7">salvianolic<tspan x="456" dy="10">acid</tspan><tspan x="456" dy="10">a</tspan></text></g>
<g id="c-d29"><circle class="c" cx="431" cy="380" r="9.5"/><text class="cl" x="431" y="377.7">dan-shexinkum<tspan x="431" dy="10">d</tspan></text></g>
<g id="c-d30"><circle class="c" cx="411" cy="352" r="9.5"/><text class="cl" x="411" y="354.7">neocryptotanshinoneII</text></g>
<g id="c-d31"><circle class="c" cx="394" cy="322" r="9.5"/><text class="cl" x="394" y="324.7">salviolone</text></g>
<g id="c-d32"><circle class="c" cx="383" cy="289" r="9.5"/><text class="cl" x="383" y="291.7">Miltirone</text></g>
<g id="c-d33"><circle class="c" cx="378" cy="255" r="9.5"/><text class="cl" x="378" y="257.7">ZINC13341234</text></g>
<g id="c-d34"><circle class="c" cx="378" cy="220" r="9.5"/><text class="cl" x="378" y="217.7">miltionone<tspan x="378" dy="10">I</tspan></text></g>
<g id="c-d35"><circle class="c" cx="383" cy="187" r="9.5"/><text class="cl" x="383" y="184.7">przewaquinone<tspan x="383" dy="10">c</tspan></text></g>
<g id="c-d36"><circle class="c" cx="393" cy="153" r="9.5"/><text class="cl" x="393" y="150.7">prolithospermic<tspan x="393" dy="10">acid</tspan></text></g>
<g id="c-d37"><circle class="c" cx="408" cy="123" r="9.5"/><text class="cl" x="408" y="125.7">isocryptotanshinone</text></g>
<g id="c-d38"><circle class="c" cx="428" cy="94" r="9.5"/><text class="cl" x="428" y="96.7">Methylenetanshinquinone</text></g>
<g id="c-d39"><circle class="c" cx="453" cy="70" r="9.5"/><text class="cl" x="453" y="72.7">epidanshenspiroketallactone</text></g>
<g id="c-d40"><circle class="c" cx="480" cy="48" r="9.5"/><text class="cl" x="480" y="50.7">deoxyneocryptotanshinone</text></g>
<!-- Xiakucao / shared compounds -->
<g id="c-x01"><circle class="c" cx="796" cy="473" r="9.5"/><text class="cl" x="796" y="470.7">ursolic<tspan x="796" dy="10">acid</tspan></text></g>
<g id="c-x02"><circle class="c" cx="1058" cy="471" r="9.5"/><text class="cl" x="1058" y="473.7">morin</text></g>
<g id="c-x03"><circle class="c" cx="836" cy="536" r="9.5"/><text class="cl" x="835" y="538.7">3-beta-Hydroxymethyllenetanshiquinone</text></g>
<g id="c-x04"><circle class="c" cx="880" cy="568" r="9.5"/><text class="cl" x="880" y="570.7">beta-sitosterol</text></g>
<g id="c-x05"><circle class="c" cx="836" cy="595" r="9.5"/><text class="cl" x="836" y="597.7">Stigmasterol</text></g>
<g id="c-x06"><circle class="c" cx="881" cy="627" r="9.5"/><text class="cl" x="881" y="629.7">quercetin</text></g>
<g id="c-x07"><circle class="c" cx="836" cy="653" r="9.5"/><text class="cl" x="836" y="655.7">luteolin</text></g>
<g id="c-x08"><circle class="c" cx="881" cy="686" r="9.5"/><text class="cl" x="881" y="688.7">ent-Epicatechin</text></g>
<g id="c-x09"><circle class="c" cx="836" cy="713" r="9.5"/><text class="cl" x="836" y="715.7">kaempferol</text></g>
<g id="c-x10"><circle class="c" cx="882" cy="768" r="9.5"/><text class="cl" x="882" y="770.7">Syringetin</text></g>
<g id="c-x11"><circle class="c" cx="961" cy="768" r="9.5"/><text class="cl" x="961" y="770.7">CHEMBL2430311</text></g>
<g id="c-x12"><circle class="c" cx="823" cy="818" r="9.5"/><text class="cl" x="823" y="820.7">hirsutin_qt</text></g>
<g id="c-x13"><circle class="c" cx="1021" cy="818" r="9.5"/><text class="cl" x="1020" y="820.7">(-)-Tabernemontanine</text></g>
<!-- Duzhong compounds -->
<g id="c-z01"><circle class="c" cx="808" cy="895" r="9.5"/><text class="cl" x="808" y="887.7">dehydrodiconiferyl<tspan x="808" dy="10">alcohol</tspan><tspan x="807" dy="10">4,γ'-di-O-β-D-glucopyranoside</tspan></text></g>
<g id="c-z02"><circle class="c" cx="1034" cy="895" r="9.5"/><text class="cl" x="1034" y="897.7">Erythraline</text></g>
<g id="c-z03"><circle class="c" cx="848" cy="963" r="9.5"/><text class="cl" x="848" y="960.7">(+)-Dehydrodiconiferyl<tspan x="848" dy="10">alcohol</tspan></text></g>
<g id="c-z04"><circle class="c" cx="995" cy="963" r="9.5"/><text class="cl" x="995" y="965.7">beta-carotene</text></g>
<g id="c-z05"><circle class="c" cx="922" cy="990" r="9.5"/><text class="cl" x="922" y="992.7">epiquinidine</text></g>
<!-- Gouteng compounds -->
<g id="c-g01"><circle class="c" cx="171" cy="472" r="9.5"/><text class="cl" x="171" y="469.7">delta(sup<tspan x="171" dy="10">18)-Hirsutine</tspan></text></g>
<g id="c-g02"><circle class="c" cx="213" cy="474" r="9.5"/><text class="cl" x="213" y="471.7">vincoside<tspan x="213" dy="10">lactam_qt</tspan></text></g>
<g id="c-g03"><circle class="c" cx="128" cy="485" r="9.5"/><text class="cl" x="128" y="482.7">isocorynantheic<tspan x="128" dy="10">acid</tspan></text></g>
<g id="c-g04"><circle class="c" cx="258" cy="495" r="9.5"/><text class="cl" x="258" y="492.7">(2S,12bR)-methyl<tspan x="256" dy="10">2-((E)-1-oxobut-2-en-2-yl)-1,2,6,7,12,12b-hexahydroindolo[2,3-a]quinolizine-3-carboxylate</tspan></text></g>
<g id="c-g05"><circle class="c" cx="94" cy="514" r="9.5"/><text class="cl" x="94" y="516.7">Tetrahydroalstonine</text></g>
<g id="c-g06"><circle class="c" cx="287" cy="531" r="9.5"/><text class="cl" x="286" y="528.7">(1'R,3S,4a'S,5a'S,10a'R)-1'-methyl-2-oxo-1',4a',5',5a',7',8',10',10a'-octahydrospiro[indoline-3,6'-pyrano[3,4-f]indolizine]-9'-carboxylic<tspan x="287" dy="10">acid</tspan></text></g>
<g id="c-g07"><circle class="c" cx="73" cy="557" r="9.5"/><text class="cl" x="73" y="559.7">pteropodine</text></g>
<g id="c-g08"><circle class="c" cx="301" cy="573" r="9.5"/><text class="cl" x="301" y="575.7">corynantheine</text></g>
<g id="c-g09"><circle class="c" cx="68" cy="603" r="9.5"/><text class="cl" x="68" y="605.7">yohimbine</text></g>
<g id="c-g10"><circle class="c" cx="298" cy="619" r="9.5"/><text class="cl" x="298" y="616.7">Mitraphyllic<tspan x="298" dy="10">acid</tspan></text></g>
<g id="c-g11"><circle class="c" cx="85" cy="645" r="9.5"/><text class="cl" x="85" y="647.7">hirsutine</text></g>
<g id="c-g12"><circle class="c" cx="277" cy="659" r="9.5"/><text class="cl" x="277" y="661.7">hirsutasideA</text></g>
<g id="c-g13"><circle class="c" cx="114" cy="679" r="9.5"/><text class="cl" x="114" y="676.7">geissoschizinc<tspan x="114" dy="10">acid</tspan></text></g>
<g id="c-g14"><circle class="c" cx="243" cy="689" r="9.5"/><text class="cl" x="243" y="691.7">isopteropodine</text></g>
<g id="c-g15"><circle class="c" cx="155" cy="697" r="9.5"/><text class="cl" x="155" y="694.7">Rhynchophylline<tspan x="155" dy="10">A</tspan></text></g>
<g id="c-g16"><circle class="c" cx="200" cy="705" r="9.5"/><text class="cl" x="200" y="702.7">methyl<tspan x="199" dy="10">(E)-2-[(2S,3Z,12bS)-3-ethylidene-2,4,6,7,12,12b-hexahydro-1H-indolo[3,2-h]quinolizin-2-yl]-3-methoxyprop-2-enoate</tspan></text></g>
<!-- Gegen compounds -->
<g id="c-e01"><circle class="c" cx="242" cy="814" r="9.5"/><text class="cl" x="242" y="816.7">daidzein</text></g>
<g id="c-e02"><circle class="c" cx="360" cy="819" r="9.5"/><text class="cl" x="360" y="821.7">3'-Methoxydaidzein</text></g>
<g id="c-e03"><circle class="c" cx="238" cy="932" r="9.5"/><text class="cl" x="238" y="934.7">puerarin</text></g>
<g id="c-e04"><circle class="c" cx="356" cy="936" r="9.5"/><text class="cl" x="356" y="938.7">formononetin</text></g>
<!-- NiuXi compounds -->
<g id="c-n01"><circle class="c" cx="542" cy="941" r="9.5"/><text class="cl" x="542" y="943.7">palmatine</text></g>
<g id="c-n02"><circle class="c" cx="622" cy="941" r="9.5"/><text class="cl" x="622" y="943.7">epiberberine</text></g>
<g id="c-n03"><circle class="c" cx="492" cy="1004" r="9.5"/><text class="cl" x="492" y="1001.7">Inophyllum<tspan x="492" dy="10">E</tspan></text></g>
<g id="c-n04"><circle class="c" cx="673" cy="1004" r="9.5"/><text class="cl" x="673" y="1006.7">coptisine</text></g>
<g id="c-n05"><circle class="c" cx="509" cy="1083" r="9.5"/><text class="cl" x="509" y="1085.7">baicalein</text></g>
<g id="c-n06"><circle class="c" cx="654" cy="1083" r="9.5"/><text class="cl" x="654" y="1085.7">berberine</text></g>
<g id="c-n07"><circle class="c" cx="582" cy="1117" r="9.5"/><text class="cl" x="582" y="1119.7">wogonin</text></g>
<!-- Targets -->
<g id="t-TGFB1"><use href="#dm" class="t" x="525" y="503"/><text class="tl" x="525" y="507.5">TGFB1</text></g>
<g id="t-STAT3"><use href="#dm" class="t" x="560" y="498"/><text class="tl" x="560" y="502.5">STAT3</text></g>
<g id="t-IL1B"><use href="#dm" class="t" x="595" y="498"/><text class="tl" x="595" y="502.5">IL1B</text></g>
<g id="t-VEGFA"><use href="#dm" class="t" x="629" y="503"/><text class="tl" x="629" y="507.5">VEGFA</text></g>
<g id="t-STAT1"><use href="#dm" class="t" x="663" y="516"/><text class="tl" x="663" y="520.5">STAT1</text></g>
<g id="t-EGFR"><use href="#dm" class="t" x="492" y="516"/><text class="tl" x="492" y="520.5">EGFR</text></g>
<g id="t-MYC"><use href="#dm" class="t" x="462" y="534"/><text class="tl" x="462" y="538.5">MYC</text></g>
<g id="t-CASP8"><use href="#dm" class="t" x="692" y="534"/><text class="tl" x="692" y="538.5">CASP8</text></g>
<g id="t-CXCL8"><use href="#dm" class="t" x="433" y="558"/><text class="tl" x="433" y="562.5">CXCL8</text></g>
<g id="t-TP53"><use href="#dm" class="t" x="719" y="558"/><text class="tl" x="719" y="562.5">TP53</text></g>
<g id="t-CTNNB1"><use href="#dm" class="t" x="412" y="586"/><text class="tl" x="412" y="590.5">CTNNB1</text></g>
<g id="t-CCND1"><use href="#dm" class="t" x="739" y="586"/><text class="tl" x="739" y="590.5">CCND1</text></g>
<g id="t-EP300"><use href="#dm" class="t" x="394" y="617"/><text class="tl" x="394" y="621.5">EP300</text></g>
<g id="t-FOS"><use href="#dm" class="t" x="759" y="617"/><text class="tl" x="759" y="621.5">FOS</text></g>
<g id="t-EGF"><use href="#dm" class="t" x="385" y="651"/><text class="tl" x="385" y="655.5">EGF</text></g>
<g id="t-IL6"><use href="#dm" class="t" x="770" y="651"/><text class="tl" x="770" y="655.5">IL6</text></g>
<g id="t-RHOA"><use href="#dm" class="t" x="378" y="686"/><text class="tl" x="378" y="690.5">RHOA</text></g>
<g id="t-CHRM2"><use href="#dm" class="t" x="773" y="686"/><text class="tl" x="773" y="690.5">CHRM2</text></g>
<g id="t-IGF1"><use href="#dm" class="t" x="381" y="721"/><text class="tl" x="381" y="725.5">IGF1</text></g>
<g id="t-TNF"><use href="#dm" class="t" x="773" y="721"/><text class="tl" x="773" y="725.5">TNF</text></g>
<g id="t-ITGB3"><use href="#dm" class="t" x="389" y="755"/><text class="tl" x="389" y="759.5">ITGB3</text></g>
<g id="t-MAPK8"><use href="#dm" class="t" x="763" y="755"/><text class="tl" x="763" y="759.5">MAPK8</text></g>
<g id="t-EDN1"><use href="#dm" class="t" x="402" y="788"/><text class="tl" x="402" y="792.5">EDN1</text></g>
<g id="t-MAPK1"><use href="#dm" class="t" x="749" y="788"/><text class="tl" x="749" y="792.5">MAPK1</text></g>
<g id="t-CXCL10"><use href="#dm" class="t" x="422" y="818"/><text class="tl" x="422" y="822.5">CXCL10</text></g>
<g id="t-MAPK14"><use href="#dm" class="t" x="732" y="818"/><text class="tl" x="732" y="822.5">MAPK14</text></g>
<g id="t-FN1"><use href="#dm" class="t" x="447" y="843"/><text class="tl" x="447" y="847.5">FN1</text></g>
<g id="t-JUN"><use href="#dm" class="t" x="707" y="843"/><text class="tl" x="707" y="847.5">JUN</text></g>
<g id="t-AGTR1"><use href="#dm" class="t" x="476" y="864"/><text class="tl" x="476" y="868.5">AGTR1</text></g>
<g id="t-RELA"><use href="#dm" class="t" x="678" y="864"/><text class="tl" x="678" y="868.5">RELA</text></g>
<g id="t-APP"><use href="#dm" class="t" x="507" y="879"/><text class="tl" x="507" y="883.5">APP</text></g>
<g id="t-AKT1"><use href="#dm" class="t" x="646" y="879"/><text class="tl" x="646" y="883.5">AKT1</text></g>
<g id="t-EDNRA"><use href="#dm" class="t" x="542" y="889"/><text class="tl" x="542" y="893.5">EDNRA</text></g>
<g id="t-ESR1"><use href="#dm" class="t" x="613" y="889"/><text class="tl" x="613" y="893.5">ESR1</text></g>
<g id="t-F2"><use href="#dm" class="t" x="578" y="893"/><text class="tl" x="578" y="897.5">F2</text></g>
<!-- Pathways -->
<g id="p-11"><use href="#vee" class="p" x="448" y="617.5"/><text class="pl" x="448" y="601.2">AGE-RAGE<tspan x="448" dy="7.3">signaling</tspan><tspan x="448" dy="7.3">pathway</tspan><tspan x="448" dy="7.3">in</tspan><tspan x="448" dy="7.3">diabetic</tspan><tspan x="448" dy="7.3">complications</tspan></text></g>
<g id="p-21"><use href="#vee" class="p" x="448" y="650.5"/><text class="pl" x="448" y="648.8">Chagas<tspan x="448" dy="7.3">disease</tspan></text></g>
<g id="p-31"><use href="#vee" class="p" x="448" y="682.5"/><text class="pl" x="448" y="677.1">FoxO<tspan x="448" dy="7.3">signaling</tspan><tspan x="448" dy="7.3">pathway</tspan></text></g>
<g id="p-41"><use href="#vee" class="p" x="448" y="715.5"/><text class="pl" x="448" y="717.4">Tuberculosis</text></g>
<g id="p-51"><use href="#vee" class="p" x="448" y="747.5"/><text class="pl" x="448" y="742.1">Proteoglycans<tspan x="448" dy="7.3">in</tspan><tspan x="448" dy="7.3">cancer</tspan></text></g>
<g id="p-61"><use href="#vee" class="p" x="448" y="780.5"/><text class="pl" x="448" y="775.1">Human<tspan x="448" dy="7.3">cytomegalovirus</tspan><tspan x="448" dy="7.3">infection</tspan></text></g>
<g id="p-12"><use href="#vee" class="p" x="513" y="617.5"/><text class="pl" x="513" y="604.8">Fluid<tspan x="513" dy="7.3">shear</tspan><tspan x="513" dy="7.3">stress</tspan><tspan x="513" dy="7.3">and</tspan><tspan x="513" dy="7.3">atherosclerosis</tspan></text></g>
<g id="p-22"><use href="#vee" class="p" x="513" y="650.5"/><text class="pl" x="513" y="637.8">C-type<tspan x="513" dy="7.3">lectin</tspan><tspan x="513" dy="7.3">receptor</tspan><tspan x="513" dy="7.3">signaling</tspan><tspan x="513" dy="7.3">pathway</tspan></text></g>
<g id="p-32"><use href="#vee" class="p" x="513" y="682.5"/><text class="pl" x="513" y="680.8">Focal<tspan x="513" dy="7.3">adhesion</tspan></text></g>
<g id="p-42"><use href="#vee" class="p" x="513" y="715.5"/><text class="pl" x="513" y="713.8">Influenza<tspan x="513" dy="7.3">A</tspan></text></g>
<g id="p-52"><use href="#vee" class="p" x="513" y="747.5"/><text class="pl" x="513" y="742.1">Human<tspan x="513" dy="7.3">papillomavirus</tspan><tspan x="513" dy="7.3">infection</tspan></text></g>
<g id="p-62"><use href="#vee" class="p" x="513" y="780.5"/><text class="pl" x="513" y="778.8">Pancreatic<tspan x="513" dy="7.3">cancer</tspan></text></g>
<g id="p-13"><use href="#vee" class="p" x="578" y="617.5"/><text class="pl" x="578" y="619.4">Measles</text></g>
<g id="p-23"><use href="#vee" class="p" x="578" y="650.5"/><text class="pl" x="578" y="648.8">Endocrine<tspan x="578" dy="7.3">resistance</tspan></text></g>
<g id="p-33"><use href="#vee" class="p" x="578" y="682.5"/><text class="pl" x="578" y="684.4">Pertussis</text></g>
<g id="p-43"><use href="#vee" class="p" x="578" y="715.5"/><text class="pl" x="578" y="710.1">TNF<tspan x="578" dy="7.3">signaling</tspan><tspan x="578" dy="7.3">pathway</tspan></text></g>
<g id="p-53"><use href="#vee" class="p" x="578" y="747.5"/><text class="pl" x="578" y="742.1">Prolactin<tspan x="578" dy="7.3">signaling</tspan><tspan x="578" dy="7.3">pathway</tspan></text></g>
<g id="p-63"><use href="#vee" class="p" x="578" y="780.5"/><text class="pl" x="578" y="778.8">Hepatitis<tspan x="578" dy="7.3">C</tspan></text></g>
<g id="p-14"><use href="#vee" class="p" x="643" y="617.5"/><text class="pl" x="643" y="612.1">IL-17<tspan x="643" dy="7.3">signaling</tspan><tspan x="643" dy="7.3">pathway</tspan></text></g>
<g id="p-24"><use href="#vee" class="p" x="643" y="650.5"/><text class="pl" x="643" y="645.1">Epstein-Barr<tspan x="643" dy="7.3">virus</tspan><tspan x="643" dy="7.3">infection</tspan></text></g>
<g id="p-34"><use href="#vee" class="p" x="643" y="682.5"/><text class="pl" x="643" y="680.8">Colorectal<tspan x="643" dy="7.3">cancer</tspan></text></g>
<g id="p-44"><use href="#vee" class="p" x="643" y="715.5"/><text class="pl" x="643" y="713.8">Osteoclast<tspan x="643" dy="7.3">differentiation</tspan></text></g>
<g id="p-54"><use href="#vee" class="p" x="643" y="747.5"/><text class="pl" x="643" y="742.1">Th17<tspan x="643" dy="7.3">cell</tspan><tspan x="643" dy="7.3">differentiation</tspan></text></g>
<g id="p-64"><use href="#vee" class="p" x="643" y="780.5"/><text class="pl" x="643" y="778.8">Hepatitis<tspan x="643" dy="7.3">B</tspan></text></g>
<g id="p-15"><use href="#vee" class="p" x="708" y="617.5"/><text class="pl" x="708" y="604.8">Human<tspan x="708" dy="7.3">T-cell</tspan><tspan x="708" dy="7.3">leukemia</tspan><tspan x="708" dy="7.3">virus 1</tspan><tspan x="708" dy="7.3">infection</tspan></text></g>
<g id="p-25"><use href="#vee" class="p" x="708" y="650.5"/><text class="pl" x="708" y="641.5">Kaposi<tspan x="708" dy="7.3">sarcoma-associated</tspan><tspan x="708" dy="7.3">herpesvirus</tspan><tspan x="708" dy="7.3">infection</tspan></text></g>
<g id="p-35"><use href="#vee" class="p" x="708" y="682.5"/><text class="pl" x="708" y="677.1">Pathways<tspan x="708" dy="7.3">in</tspan><tspan x="708" dy="7.3">cancer</tspan></text></g>
<g id="p-45"><use href="#vee" class="p" x="708" y="715.5"/><text class="pl" x="708" y="710.1">Relaxin<tspan x="708" dy="7.3">signaling</tspan><tspan x="708" dy="7.3">pathway</tspan></text></g>
<g id="p-55"><use href="#vee" class="p" x="708" y="747.5"/><text class="pl" x="708" y="745.8">Breast<tspan x="708" dy="7.3">cancer</tspan></text></g>
<g id="p-65"><use href="#vee" class="p" x="708" y="780.5"/><text class="pl" x="708" y="771.5">Toll-like<tspan x="708" dy="7.3">receptor</tspan><tspan x="708" dy="7.3">signaling</tspan><tspan x="708" dy="7.3">pathway</tspan></text></g>
</svg>
